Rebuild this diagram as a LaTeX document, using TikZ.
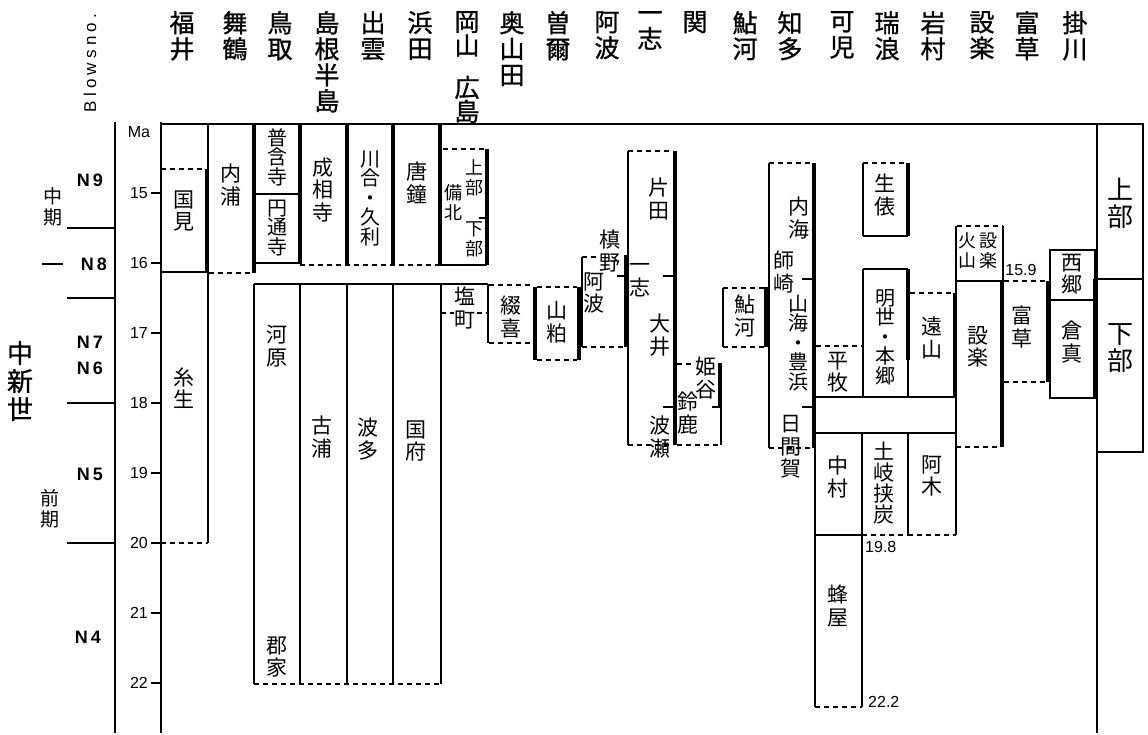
\documentclass[tikz,border=0pt]{standalone}
\usepackage{fontspec}
\setmainfont{Liberation Sans}
\newfontfamily\cjk{Noto Sans CJK JP}
\newfontfamily\cjkh[FakeBold=1]{Noto Sans CJK JP}
\newfontfamily\blowsf[LetterSpace=25]{Liberation Sans}
\begin{document}
\begin{tikzpicture}[x=1pt,y=-1pt,
  tn/.style={line width=1.1pt},
  tk/.style={line width=3.4pt},
  ds/.style={line width=1.3pt, dash pattern=on 5pt off 4pt},
  hd/.style={font=\cjkh\fontsize{25}{26}\selectfont, align=center, inner sep=0pt, anchor=north},
  lb/.style={font=\cjk\fontsize{21}{22.5}\selectfont, align=center, inner sep=0pt},
  lbf/.style={font=\cjk\fontsize{20}{19.5}\selectfont, align=center, inner sep=0pt},
  sm/.style={font=\cjk\fontsize{18}{20}\selectfont, align=center, inner sep=0pt},
  bg/.style={font=\cjk\fontsize{26}{27}\selectfont, align=center, inner sep=0pt},
  num/.style={font=\fontsize{16}{16}\selectfont, inner sep=0pt},
  bn/.style={font=\bfseries\fontsize{18}{18}\selectfont, inner sep=0pt}]
\useasboundingbox (0,0) rectangle (1148,735);

% ---------- headers ----------
\node[hd] (h1) at (182,11) {福\\井};
\node[hd] (h2) at (235,11) {舞\\鶴};
\node[hd] (h3) at (280,11) {鳥\\取};
\node[hd] (h4) at (327,11) {島\\根\\半\\島};
\node[hd] (h5) at (373,11) {出\\雲};
\node[hd] (h6) at (420,11) {浜\\田};
\node[hd, font=\cjkh\fontsize{25}{24}\selectfont] (h7) at (467,11) {岡\\山\\[18pt]広\\島};
\node[hd] (h8) at (512,11) {奥\\山\\田};
\node[hd] (h9) at (558,11) {曽\\爾};
\node[hd] (h10) at (607,11) {阿\\波};
\node[hd] (h11) at (650,11) {一\\志};
\node[hd] (h12) at (695,11) {関};
\node[hd] (h13) at (745,11) {鮎\\河};
\node[hd] (h14) at (790,11) {知\\多};
\node[hd] (h15) at (842,11) {可\\児};
\node[hd] (h16) at (887,11) {瑞\\浪};
\node[hd] (h17) at (933,11) {岩\\村};
\node[hd] (h18) at (982,11) {設\\楽};
\node[hd] (h19) at (1027,11) {富\\草};
\node[hd] (h20) at (1075,11) {掛\\川};

% ---------- left scales ----------
\node[rotate=90, font=\blowsf\fontsize{17}{17}\selectfont, inner sep=0pt] (blows) at (90,63) {Blowsno.};
\draw[tn] (115,122) -- (115,733);
\draw[tn] (161,122) -- (161,733);
\draw[tn] (161,124) -- (1143,124);
\node[num] (ma) at (139,132) {Ma};
\foreach \m in {15,...,22} {
  \draw[tn] (151,{193+(\m-15)*70}) -- (161,{193+(\m-15)*70});
  \node[num, anchor=east] (t\m) at (148,{193+(\m-15)*70}) {\m};
}
\foreach \yy in {228,298,403,543} \draw[tn] (67,\yy) -- (115,\yy);
\draw[tn] (42,264) -- (63,264);
\node[bn] (n9) at (90,180) {N\,9};
\node[bn] (n8) at (94,264) {N\,8};
\node[bn] (n7) at (90,342) {N\,7};
\node[bn] (n6) at (90,368) {N\,6};
\node[bn] (n5) at (90,474) {N\,5};
\node[bn] (n4) at (88,637) {N\,4};
\node[sm, font=\cjk\fontsize{19}{21}\selectfont] (chuki) at (53,207) {中\\期};
\node[font=\cjkh\fontsize{26}{28}\selectfont, align=center, inner sep=0pt] (chushinsei) at (20,381) {中\\新\\世};
\node[sm, font=\cjk\fontsize{19}{21}\selectfont] (zenki) at (50,509) {前\\期};

% ---------- 福井 ----------
\draw[ds] (161,169) -- (205,169);
\draw[tk] (207,169) -- (207,272);
\draw[tn] (161,272) -- (207,272);
\draw[tn] (208,124) -- (208,169);
\draw[tn] (208,272) -- (208,543);
\draw[ds] (161,543) -- (208,543);
\node[lb] (kunimi) at (184,211) {国\\見};
\node[lb] (itoo) at (184,388) {糸\\生};

% ---------- 舞鶴 ----------
\draw[tk] (254,124) -- (254,273);
\draw[ds] (209,273) -- (254,273);
\node[lb] (uchiura) at (231,185) {内\\浦};

% ---------- 鳥取 ----------
\draw[tn] (254,194) -- (300,194);
\draw[tn] (254,263) -- (300,263);
\draw[tk] (300,124) -- (300,264);
\node[lbf] (fugan) at (277,157) {普\\含\\寺};
\node[lbf] (entsu) at (277,228) {円\\通\\寺};

% ---------- 島根半島 / 出雲 / 浜田 upper ----------
\draw[tk] (347,124) -- (347,265);
\draw[tk] (393,124) -- (393,265);
\draw[tk] (440,124) -- (440,265);
\draw[ds] (300,265) -- (440,265);
\node[lb] (joso) at (323,190) {成\\相\\寺};
\node[lbf] (kawai) at (370,198) {川\\合\\・\\久\\利};
\node[lb] (karakane) at (417,183) {唐\\鐘};

% ---------- 岡山広島 upper ----------
\draw[ds] (443,149) -- (486,149);
\draw[tk] (487,149) -- (487,265);
\draw[tn] (440,265) -- (487,265);
\draw[tn] (479,218) -- (487,218);
\node[sm] (jobu1) at (474,178) {上\\部};
\node[sm] (kabu1) at (474,239) {下\\部};
\node[sm] (bihoku) at (453,203) {備\\北};

% ---------- lower Sanin ----------
\draw[tn] (254,284) -- (488,284);
\foreach \xx in {254,300,347,393,441} \draw[tn] (\xx,284) -- (\xx,684);
\draw[ds] (254,684) -- (441,684);
\node[lb] (kawara) at (277,346) {河\\原};
\node[lb] (koge) at (277,657) {郡\\家};
\node[lb] (koura) at (322,437) {古\\浦};
\node[lb] (hata) at (368,439) {波\\多};
\node[lb] (kokufu) at (416,441) {国\\府};

% ---------- 塩町 / 綴喜 / 山粕 ----------
\draw[tn] (488,284) -- (488,343);
\draw[ds] (441,313) -- (488,313);
\node[lb, fill=white, inner sep=1pt] (shiomachi) at (465,308) {塩\\町};
\draw[ds] (489,285) -- (533,285);
\draw[ds] (489,343) -- (533,343);
\node[lb] (tsuzuki) at (511,317) {綴\\喜};
\draw[tk] (535,287) -- (535,360);
\draw[ds] (537,287) -- (577,287);
\draw[ds] (537,360) -- (577,360);
\draw[tk] (579,287) -- (579,360);
\node[lb] (yamakasu) at (557,322) {山\\粕};

% ---------- 阿波 ----------
\draw[tn] (582,257) -- (582,347);
\draw[ds] (582,257) -- (598,257);
\draw[ds] (582,347) -- (624,347);
\draw[tk] (626,255) -- (626,347);
\draw[tn] (617,276) -- (626,276);
\node[lb] (awa) at (594,293) {阿\\波};
\node[lb] (makino) at (610,251) {槙\\野};

% ---------- 一志 ----------
\draw[tn] (628,151) -- (628,445);
\draw[ds] (628,151) -- (673,151);
\draw[tk] (675,151) -- (675,445);
\draw[ds] (628,445) -- (673,445);
\draw[tn] (663,276) -- (675,276);
\draw[tn] (663,407) -- (675,407);
\node[lb] (katada) at (659,199) {片\\田};
\node[lb] (ichishi) at (640,280) {一\\志};
\node[lb] (oi) at (660,335) {大\\井};
\node[lb] (hase) at (660,437) {波\\瀬};

% ---------- 関 ----------
\draw[ds] (677,364) -- (695,364);
\draw[tk] (720,363) -- (720,407);
\draw[tn] (721,407) -- (721,445);
\draw[tn] (712,407) -- (720,407);
\draw[ds] (677,445) -- (721,445);
\node[lb] (himetani) at (706,378) {姫\\谷};
\node[lb] (suzuka) at (688,413) {鈴\\鹿};

% ---------- 鮎河 ----------
\draw[tn] (723,288) -- (723,347);
\draw[ds] (723,288) -- (764,288);
\draw[ds] (723,347) -- (764,347);
\draw[tk] (766,287) -- (766,347);
\node[lb] (ayu) at (745,316) {鮎\\河};

% ---------- 知多 ----------
\draw[tn] (769,163) -- (769,448);
\draw[ds] (769,163) -- (812,163);
\draw[tk] (814,163) -- (814,448);
\draw[ds] (769,448) -- (812,448);
\draw[tn] (802,279) -- (814,279);
\draw[tn] (802,407) -- (814,407);
\node[lb] (utsumi) at (799,218) {内\\海};
\node[lb] (morozaki) at (784,272) {師\\崎};
\node[lbf] (yamami) at (798,343) {山\\海\\・\\豊\\浜};
\node[lb] (himaka) at (791,447) {日\\間\\賀};

% ---------- 可児 / 瑞浪 / 岩村 ----------
\draw[tn] (815,448) -- (815,707);
\draw[ds] (816,346) -- (862,346);
\node[lb] (hirakino) at (838,372) {平\\牧};
\draw[tn] (814,397) -- (956,397);
\draw[tn] (814,433) -- (956,433);
\draw[tn] (862,433) -- (862,707);
\draw[tn] (815,535) -- (862,535);
\draw[ds] (862,535) -- (908,535);
\draw[tn] (908,433) -- (908,535);
\draw[ds] (908,535) -- (956,535);
\draw[ds] (815,707) -- (862,707);
\node[lb] (nakamura) at (838,477) {中\\村};
\node[lbf, font=\cjk\fontsize{21}{21}\selectfont] (toki) at (884,483) {土\\岐\\挟\\炭};
\node[lb] (agi) at (932,476) {阿\\木};
\node[lb] (hachiya) at (838,606) {蜂\\屋};
\node[num, anchor=west] (v198) at (865,547) {19.8};
\node[num, anchor=west] (v222) at (868,702) {22.2};
% 生俵
\draw[tn] (863,163) -- (863,236);
\draw[ds] (863,163) -- (905,163);
\draw[tk] (908,163) -- (908,236);
\draw[tn] (863,236) -- (908,236);
\node[lb] (oidawara) at (885,195) {生\\俵};
% 明世・本郷
\draw[tn] (863,269) -- (908,269);
\draw[tn] (863,269) -- (863,397);
\draw[tk] (908,269) -- (908,360);
\draw[tn] (908,360) -- (908,397);
\node[lbf] (akeyo) at (885,337) {明\\世\\・\\本\\郷};
% 遠山
\draw[ds] (910,293) -- (953,293);
\draw[tk] (955,293) -- (955,397);
\node[lb] (toyama) at (932,338) {遠\\山};

% ---------- 設楽 ----------
\draw[tn] (956,226) -- (956,293);
\draw[tn] (956,397) -- (956,535);
\draw[ds] (957,226) -- (1003,226);
\draw[tn] (1003,226) -- (1003,281);
\draw[tn] (956,281) -- (1003,281);
\node[sm] (kazan) at (967,251) {火\\山};
\node[sm] (shitara1) at (988,251) {設\\楽};
\node[num] (v159) at (1021,270) {15.9};
\draw[tk] (1002,281) -- (1002,447);
\draw[ds] (956,447) -- (1000,447);
\node[lb] (shitara2) at (978,347) {設\\楽};

% ---------- 富草 ----------
\draw[ds] (1004,281) -- (1046,281);
\draw[tk] (1048,281) -- (1048,382);
\draw[ds] (1004,382) -- (1046,382);
\node[lb] (tomikusa) at (1022,327) {富\\草};

% ---------- 西郷 / 倉真 ----------
\draw[tn] (1050,250) rectangle (1095,398);
\draw[tn] (1050,300) -- (1095,300);
\draw[tk] (1095,279) -- (1095,398);
\node[lb] (saigo) at (1072,274) {西\\郷};
\node[lb] (kurami) at (1072,342) {倉\\真};

% ---------- 掛川 ----------
\draw[tn] (1097,124) rectangle (1143,452);
\draw[tn] (1097,279) -- (1143,279);
\draw[tn] (1097,452) -- (1097,733);
\node[bg] (jobu2) at (1120,203) {上\\部};
\node[bg] (kabu2) at (1120,348) {下\\部};
\end{tikzpicture}
\end{document}
